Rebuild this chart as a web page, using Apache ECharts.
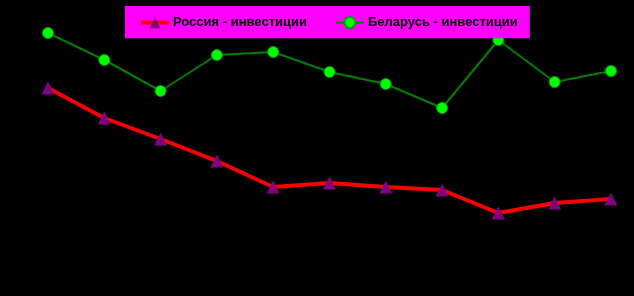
<!DOCTYPE html>
<html><head><meta charset="utf-8">
<script src="https://cdn.jsdelivr.net/npm/echarts@6/dist/echarts.min.js"></script>
<style>html,body{margin:0;padding:0;background:#000}#c{width:634px;height:296px}</style>
</head><body><div id="c"></div>
<script>
const categories = ['1','2','3','4','5','6','7','8','9','10','11'];
const russia = [208, 178, 157, 135, 109, 113, 109, 106, 83, 93, 97];
const belarus = [263, 236, 205, 241, 244, 224, 212, 188, 256, 214, 225];
const seriesNames = ['Россия - инвестиции', 'Беларусь - инвестиции'];

const chart = echarts.init(document.getElementById('c'));
chart.setOption({
  backgroundColor: '#000000',
  animation: false,
  legend: {
    left: 125, top: 6,
    backgroundColor: '#FF00FF',
    padding: [10, 12, 9, 14],
    itemWidth: 28, itemHeight: 14, itemGap: 28,
    textStyle: { color: '#000', fontWeight: 'bold', fontSize: 13, fontFamily: 'Liberation Sans, Arial, sans-serif', padding: [0, 0, 0, -1] },
    data: [
      { name: seriesNames[0], lineStyle: { width: 4, color: '#FF0000' } },
      { name: seriesNames[1], lineStyle: { width: 2, color: '#008000' } }
    ]
  },
  grid: { left: 48, right: 23, top: 0, bottom: 0 },
  xAxis: { type: 'category', data: categories, boundaryGap: false, show: false },
  yAxis: { type: 'value', min: 0, max: 296, show: false },
  series: [
    { name: seriesNames[0], type: 'line', data: russia,
      lineStyle: { color: '#FF0000', width: 4 },
      itemStyle: { color: '#800080' },
      symbol: 'triangle', symbolSize: 13, showAllSymbol: true },
    { name: seriesNames[1], type: 'line', data: belarus,
      lineStyle: { color: '#008000', width: 2 },
      itemStyle: { color: '#00FF00', borderColor: '#00A000', borderWidth: 1 },
      symbol: 'circle', symbolSize: 11, showAllSymbol: true }
  ]
});
</script></body></html>
